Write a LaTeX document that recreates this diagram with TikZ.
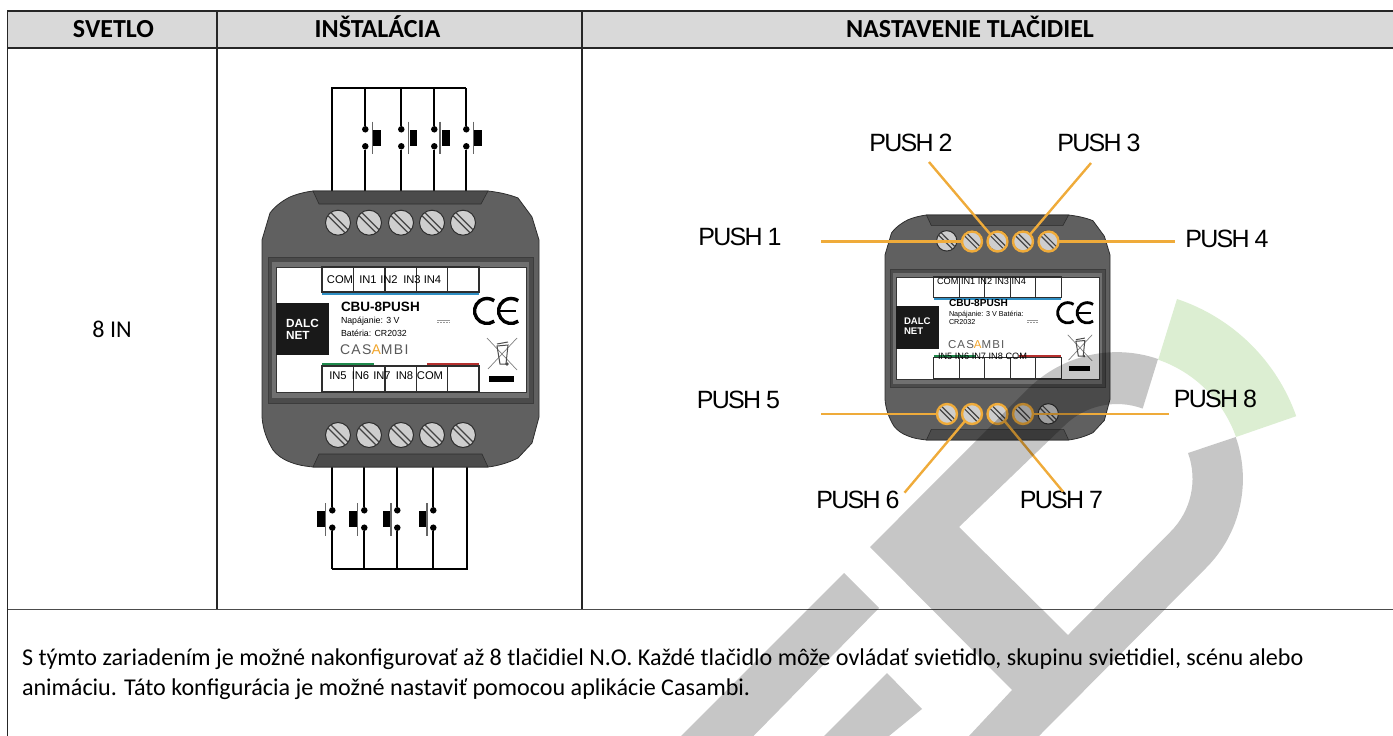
\documentclass[tikz,border=0pt]{standalone}
\usepackage{fontspec}
\setmainfont{Carlito}
\newfontfamily\arial{Liberation Sans}
\newfontfamily\pushf[LetterSpace=-7]{Liberation Sans}
\newfontfamily\casf[LetterSpace=10]{Liberation Sans}
\definecolor{hdr}{HTML}{D9D9D9}
\definecolor{orangeL}{HTML}{EFAB3A}
\definecolor{devbody}{HTML}{606060}
\definecolor{devdark}{HTML}{4B4B4B}
\definecolor{devline}{HTML}{2E2E2E}
\definecolor{wm}{HTML}{C6C6C6}
\definecolor{wmgreen}{HTML}{DCEED2}
\definecolor{blueB}{HTML}{2F8FC4}
\definecolor{greenB}{HTML}{1F8A4C}
\definecolor{redB}{HTML}{B5302E}
\definecolor{casA}{HTML}{F2A52B}
\tikzset{
  every node/.style={inner sep=0pt,outer sep=0pt},
  grid/.style={line width=1.3pt,draw=black!85},
  body/.style={font=\fontsize{24.1}{28}\selectfont},
  headtxt/.style={font=\fontsize{26}{30}\selectfont\bfseries,anchor=base},
  termtxt/.style={font=\arial\fontsize{11.2}{13}\selectfont},
  termsmall/.style={font=\arial\fontsize{9.2}{11}\selectfont},
  pushtxt/.style={font=\pushf\fontsize{25}{28}\selectfont},
  wire/.style={line width=2pt,draw=black},
  contact/.style={circle,fill=black,minimum size=6.5pt},
  leader/.style={line width=2.4pt,draw=orangeL},
}
\newcommand{\screwat}[2]{%
  \fill[hdr!95!black,draw=devline,line width=1pt] (#1,#2) circle (12.5);
  \draw[devline!90,line width=1.2pt] (#1-7,#2-10) -- (#1+10,#2+7);
  \draw[devline!90,line width=1.2pt] (#1-10,#2-7) -- (#1+7,#2+10);
}
\newcommand{\devicebody}{%
  \filldraw[fill=devbody,draw=devline,line width=.8pt]
    (262,417) -- (262,240) -- (270,213) .. controls (276,205) and (284,200) .. (290,197)
    .. controls (297,194) and (305,192) .. (313,191) -- (488,191)
    .. controls (497,192) and (508,194) .. (518,198) -- (532,217) -- (539,240) -- (539,417)
    -- (532,443) -- (518,458) .. controls (508,463) and (497,466) .. (488,467) -- (313,467)
    .. controls (304,466) and (297,465) .. (290,462) .. controls (282,459) and (277,455) .. (273,450)
    .. controls (267,440) and (263,430) .. (262,417) -- cycle;
  \filldraw[fill=devdark,draw=devline,line width=.6pt] (313,191) -- (488,191) -- (481,204) -- (319,204) -- cycle;
  \filldraw[fill=devdark,draw=devline,line width=.6pt] (313,467) -- (488,467) -- (482,454) -- (319,454) -- cycle;
  \filldraw[fill=devdark,draw=devdark!80!black,line width=.6pt] (268,257) rectangle (533,403);
  \fill[devbody!90!white] (272,262) rectangle (529,398);
  \filldraw[fill=white,draw=devdark!70!black,line width=.6pt] (276,267) rectangle (526,392);
  \foreach \x in {338,369,401,432,463} {\screwat{\x}{222.7}\screwat{\x}{435}}
  \foreach \a/\b in {322/353.7,353.7/385,385/416.7,416.7/447.7,447.7/479} {
    \draw[devline,line width=\lwT,fill=white] (\a,267) rectangle (\b,292);
    \draw[devline,line width=\lwT,fill=white] (\a,366) rectangle (\b,392);
  }
  \draw[blueB,line width=\lwB] (322,294) -- (479,294);
  \draw[greenB,line width=\lwB] (322,364) -- (374,364);
  \draw[redB,line width=\lwB] (427,364) -- (479,364);
  \fill[black!90] (276,303) rectangle (329,355);
  \draw[black,line width=\lwC] (494.2,321.2) arc[start angle=55,end angle=305,radius=12.5];
  \draw[black,line width=\lwC] (518.2,321.2) arc[start angle=55,end angle=305,radius=12.5];
  \draw[black,line width=\lwC*.8] (500,311) -- (516,311);
  \draw[black!50,line width=.7pt] (487,338) -- (517,370) (517,338) -- (488,369);
  \draw[black!70,line width=1pt] (497,344) -- (508,342) (497,346) -- (508,345) -- (506,364) -- (500,364) -- cycle;
  \fill[black!70] (507,364) circle (1.8);
  \fill[black] (489,376) rectangle (514,382);
  \draw[black!40,line width=.8pt] (437,320) -- (450,320);
  \draw[black!40,line width=.8pt,dash pattern=on 2pt off 1pt] (437,322.5) -- (450,322.5);
}
\begin{document}
\begin{tikzpicture}[x=1pt,y=-1pt]
\useasboundingbox (0,0) rectangle (1393,736);
% table
\fill[hdr] (7.5,11) rectangle (1393,48);
\draw[grid] (7.5,736) -- (7.5,11) -- (1393,11);
\draw[grid] (7.5,48) -- (1393,48);
\draw[grid] (217,11) -- (217,609.5);
\draw[grid] (582,11) -- (582,609.5);
\draw[grid,draw=black!70] (7.5,609.5) -- (1393,609.5);
\node[headtxt] (h1) at (113.5,37.5) {SVETLO};
\node[headtxt] (h2) at (377.5,37.5) {INŠTALÁCIA};
\node[headtxt] (h3) at (970,37.5) {NASTAVENIE TLAČIDIEL};
\node[body] (n8) at (112,329) {8 IN};
\node[body,anchor=base west] (p1) at (22,665.5) {S týmto zariadením je možné nakonfigurovať až 8 tlačidiel N.O. Každé tlačidlo môže ovládať svietidlo, skupinu svietidiel, scénu alebo};
\node[body,anchor=base west] (p2) at (22,695.5) {animáciu. Táto konfigurácia je možné nastaviť pomocou aplikácie Casambi.};

% first device wiring
\coordinate (bt1) at (332,88); \coordinate (bt5) at (466.3,88);
\coordinate (tt1) at (332,191);
\draw[wire] (tt1) -- (bt1) -- (bt5);
\foreach \i/\x in {1/365.3,2/401.3,3/434.3,4/466.3} {
  \node[contact] (ta\i) at (\x,129.3) {};
  \node[contact] (tb\i) at (\x,146.3) {};
  \coordinate (tu\i) at (\x,88);
  \coordinate (td\i) at (\x,191);
  \draw[wire] (tu\i) -- (ta\i);
  \draw[wire] (tb\i) -- (td\i);
}
\foreach \b/\a/\c in {372.3/373.3/380.7,408.3/410/416.7,440/442/450,473.3/474/481.7} {
  \draw[black!60,line width=1.2pt] (\b,121.7) -- (\b,154.3);
  \fill[black] (\a,130) rectangle (\c,145.7);
}
\coordinate (bb1) at (332.3,569.3); \coordinate (bb5) at (467,569.3);
\coordinate (bu5) at (467,467);
\draw[wire] (bu5) -- (bb5) -- (bb1);
\foreach \i/\x in {1/332.3,2/364.3,3/397.3,4/433.3} {
  \node[contact] (ba\i) at (\x,510.3) {};
  \node[contact] (bc\i) at (\x,527.7) {};
  \coordinate (bu\i) at (\x,467);
  \coordinate (bd\i) at (\x,569.3);
  \draw[wire] (bu\i) -- (ba\i);
  \draw[wire] (bc\i) -- (bd\i);
}
\foreach \b/\a/\c in {325.7/317.3/325.3,357.7/348.7/356.7,391/382.7/390,427/418.7/426} {
  \draw[black!60,line width=1.2pt] (\b,503) -- (\b,536);
  \fill[black] (\a,511) rectangle (\c,527);
}
% first device
\def\lwT{1.2pt}\def\lwB{2.8pt}\def\lwC{3.4pt}
\devicebody
\foreach \t/\x/\nm in {COM/340/ta,IN1/368/tb,IN2/389/tc,IN3/412/td,IN4/432.5/te} {
  \node[termtxt] (l\nm) at (\x,279.5) {\t};
}
\foreach \t/\x/\nm in {IN5/338/ba,IN6/360.5/bb,IN7/382/bc,IN8/404.5/bd,COM/430/be} {
  \node[termtxt] (l\nm) at (\x,376) {\t};
}
\node[font=\arial\bfseries\fontsize{13.5}{15}\selectfont,anchor=west] (m1) at (341,307) {CBU-8PUSH};
\node[font=\arial\fontsize{8.8}{10}\selectfont,anchor=west] (m2) at (341,321) {Napájanie: 3 V};
\node[font=\arial\fontsize{8.8}{10}\selectfont,anchor=west] (m3) at (341,333) {Batéria: CR2032};
\node[font=\arial\bfseries\fontsize{11.8}{13}\selectfont,text=white,anchor=west] (m4) at (286,323) {DALC};
\node[font=\arial\bfseries\fontsize{11.8}{13}\selectfont,text=white,anchor=west] (m5) at (286,335) {NET};
\node[font=\casf\fontsize{14}{16}\selectfont,text=black!65,anchor=west] (m6) at (340,350) {CAS\textcolor{casA}{A}MBI};

% second device
\begin{scope}[shift={(672.18,59.35)},xscale=.8123,yscale=.815]
\def\lwT{1.1pt}\def\lwB{2.3pt}\def\lwC{2.8pt}
\devicebody
\end{scope}
\node[termsmall] (s1) at (981.5,281) {COM IN1 IN2 IN3 IN4};
\node[font=\arial\bfseries\fontsize{10.1}{12}\selectfont,anchor=west] (s2) at (949,303) {CBU-8PUSH};
\node[font=\arial\fontsize{7.2}{8}\selectfont,anchor=west] (s3) at (949,315) {Napájanie: 3 V Batéria:};
\node[font=\arial\fontsize{7.2}{8}\selectfont,anchor=west] (s4) at (949,322.5) {CR2032};
\node[font=\arial\bfseries\fontsize{9.6}{11}\selectfont,text=white,anchor=west] (s5) at (904,321.5) {DALC};
\node[font=\arial\bfseries\fontsize{9.6}{11}\selectfont,text=white,anchor=west] (s6) at (904,331.5) {NET};
\node[font=\casf\fontsize{11.5}{13}\selectfont,text=black!65,anchor=west] (s7) at (948,345) {CAS\textcolor{casA}{A}MBI};
\node[termsmall] (s8) at (982.5,356) {IN5 IN6 IN7 IN8 COM};

% rings and leaders
\foreach \n/\x/\y in {r1/972/241.5,r2/997.5/241.5,r3/1023/241.5,r4/1048.5/241.5,r5/947/414,r6/972/414,r7/997.5/414,r8/1023/414} {
  \node[circle,draw=orangeL,line width=2.4pt,minimum size=20pt] (\n) at (\x,\y) {};
}
\node[pushtxt] (p-1) at (740,237) {PUSH 1};
\node[pushtxt] (p-2) at (911,143) {PUSH 2};
\node[pushtxt] (p-3) at (1099,143) {PUSH 3};
\node[pushtxt] (p-4) at (1227,239) {PUSH 4};
\node[pushtxt] (p-5) at (738.5,400) {PUSH 5};
\node[pushtxt] (p-6) at (858,500) {PUSH 6};
\node[pushtxt] (p-7) at (1061.5,500) {PUSH 7};
\node[pushtxt] (p-8) at (1215.5,399) {PUSH 8};
\coordinate (e1) at (821,241.5);
\coordinate (e2) at (929,162);
\coordinate (e3) at (1091,163);
\coordinate (e4) at (1175,241.5);
\coordinate (e5) at (821,414);
\coordinate (e6) at (904.5,492.7);
\coordinate (e7) at (1063,491.7);
\coordinate (e8) at (1169,414);
\draw[leader] (e1) -- (r1.west);
\draw[leader] (e2) -- (r2.north west);
\draw[leader] (e3) -- (r3.north east);
\draw[leader] (r4.east) -- (e4);
\draw[leader] (e5) -- (r5.west);
\draw[leader] (e6) -- (r6.south west);
\draw[leader] (e7) -- (r7.south east);
\draw[leader] (r8.east) -- (e8);

% watermark
\begin{scope}[blend mode=multiply]
\fill[wmgreen] (1177,299) arc[start angle=-71.6,end angle=-19.4,radius=190]
  -- (1236,437) arc[start angle=-19.4,end angle=-71,radius=126] -- cycle;
\fill[wm] (1158,359) arc[start angle=-71,end angle=-135,radius=126]
  -- (870,547) -- (1012,690) -- (969,736) -- (1039,736)
  -- (1206,568) arc[start angle=45,end angle=-19.4,radius=126]
  -- (1188,453) arc[start angle=-20,end angle=45,radius=75]
  -- (1068,635) -- (959,527) -- (1064,426)
  arc[start angle=-135,end angle=-70,radius=75] -- cycle;
\fill[wm] (844,573) -- (879,608) -- (753.5,736) -- (681,736) -- cycle;
\fill[wm] (887,673) -- (922,709) -- (889,736) -- (824,736) -- cycle;
\end{scope}
\end{tikzpicture}
\end{document}
